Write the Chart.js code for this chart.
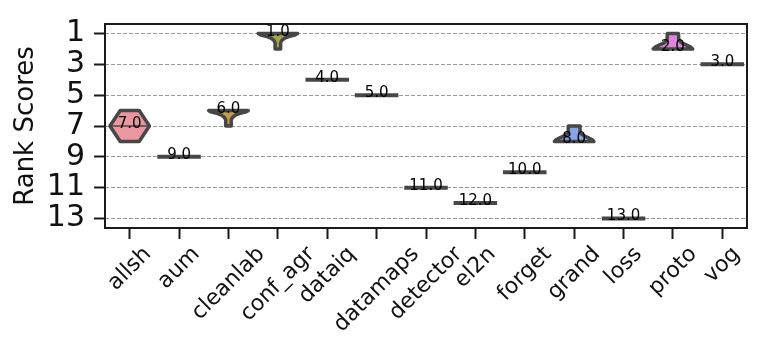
<!DOCTYPE html>
<html>
<head>
<meta charset="utf-8">
<script src="https://cdn.jsdelivr.net/npm/chart.js@4.4.0/dist/chart.umd.min.js"></script>
<style>
  body { margin: 0; background: #fff; }
</style>
</head>
<body>
<canvas id="rankChart" width="761" height="341"></canvas>
<script>
// DATA
const methods = ['allsh', 'aum', 'cleanlab', 'conf_agr', 'dataiq', 'datamaps', 'detector', 'el2n', 'forget', 'grand', 'loss', 'proto', 'vog'];
const medianRanks = [7, 9, 6, 1, 4, 5, 11, 12, 10, 8, 13, 2, 3];
const rankTicks = [1, 3, 5, 7, 9, 11, 13];

// violin outlines as [rank, relative density]; null = single value (flat line)
const allshShape = [[6, 0.48], [7, 1], [8, 0.48]];
const cleanlabShape = [[6, 1], [6.1, 0.85], [6.2, 0.55], [6.3, 0.35], [6.45, 0.2], [6.6, 0.14], [7, 0.14]];
const confAgrShape = [[1, 1], [1.1, 0.85], [1.2, 0.55], [1.3, 0.35], [1.45, 0.2], [1.6, 0.14], [2, 0.14]];
const grandShape = [[7, 0.3], [7.45, 0.3], [7.6, 0.45], [7.75, 0.7], [7.9, 0.92], [8, 1]];
const protoShape = [[1, 0.28], [1.45, 0.3], [1.6, 0.45], [1.75, 0.7], [1.9, 0.92], [2, 1]];
const violinShapes = [allshShape, null, cleanlabShape, confAgrShape, null, null, null, null, null, grandShape, null, protoShape, null];

const violinColors = ['#ea97a2', '#e0a06a', '#c49b4a', '#a5a444', '#86ab46', '#4fb36f', '#52b09c', '#55aeb6', '#5aabd0', '#86a4e6', '#b09ae6', '#e284df', '#e890bd'];
const edgeColor = '#474747';

// VIOLINS + MEDIAN LABELS
const violinPlugin = {
  id: 'violins',
  afterDatasetsDraw(chart) {
    const { ctx, scales: { x, y } } = chart;
    const band = x.getPixelForValue(1) - x.getPixelForValue(0);
    const half = band * 0.4;
    ctx.save();
    methods.forEach((m, i) => {
      const cx = x.getPixelForValue(i);
      const my = y.getPixelForValue(medianRanks[i]);
      const shape = violinShapes[i];
      ctx.strokeStyle = edgeColor;
      ctx.lineJoin = 'round';
      if (!shape) {
        ctx.lineWidth = 4;
        ctx.lineCap = 'square';
        ctx.beginPath();
        ctx.moveTo(cx - half, my);
        ctx.lineTo(cx + half, my);
        ctx.stroke();
      } else {
        ctx.lineWidth = 3.5;
        ctx.beginPath();
        shape.forEach(([r, d], k) => {
          const px = cx + d * half, py = y.getPixelForValue(r);
          if (k) ctx.lineTo(px, py); else ctx.moveTo(px, py);
        });
        for (let k = shape.length - 1; k >= 0; k--) {
          ctx.lineTo(cx - shape[k][1] * half, y.getPixelForValue(shape[k][0]));
        }
        ctx.closePath();
        ctx.fillStyle = violinColors[i];
        ctx.fill();
        ctx.stroke();
        // stick at the median
        const hit = shape.find(p => p[0] === medianRanks[i]);
        if (hit) {
          ctx.lineWidth = 1.5;
          ctx.lineCap = 'butt';
          ctx.beginPath();
          ctx.moveTo(cx - hit[1] * half, my);
          ctx.lineTo(cx + hit[1] * half, my);
          ctx.stroke();
        }
      }
      ctx.fillStyle = '#000';
      ctx.font = '15px "DejaVu Sans"';
      ctx.textAlign = 'center';
      ctx.textBaseline = 'alphabetic';
      ctx.fillText(medianRanks[i].toFixed(1), cx, my + 2);
    });
    ctx.restore();
  },
  afterDraw(chart) {
    const { ctx, chartArea: a, scales: { x } } = chart;
    ctx.save();
    // frame
    ctx.strokeStyle = '#1a1a1a';
    ctx.lineWidth = 2;
    ctx.strokeRect(a.left, a.top, a.right - a.left, a.bottom - a.top);
    // rotated category labels, centred under the tick like matplotlib
    const size = 22;
    ctx.font = size + 'px "DejaVu Sans"';
    ctx.fillStyle = '#111';
    ctx.textAlign = 'right';
    ctx.textBaseline = 'middle';
    const top = a.bottom + 11 + 4;
    methods.forEach((m, i) => {
      const L = ctx.measureText(m).width;
      const ax = x.getPixelForValue(i) + 0.354 * L;
      const ay = top + 0.354 * size;
      ctx.save();
      ctx.translate(ax, ay);
      ctx.rotate(-Math.PI / 4);
      ctx.fillText(m, 0, 0);
      ctx.restore();
    });
    ctx.restore();
  }
};

const ctx = document.getElementById('rankChart').getContext('2d');
const rankChart = new Chart(ctx, {
  type: 'line',
  data: {
    labels: methods,
    datasets: [{
      label: 'Rank',
      data: medianRanks,
      showLine: false,
      pointRadius: 0,
      pointHoverRadius: 0
    }]
  },
  options: {
    responsive: false,
    animation: false,
    events: [],
    layout: { padding: { left: 0, top: 15, right: 14, bottom: 0 } },
    plugins: {
      legend: { display: false },
      tooltip: { enabled: false }
    },
    scales: {
      x: {
        type: 'category',
        offset: true,
        border: { display: false },
        grid: {
          offset: false,
          drawOnChartArea: false,
          drawTicks: true,
          tickLength: 11,
          tickColor: '#1a1a1a',
          tickWidth: 2
        },
        ticks: { display: false },
        afterFit: s => { s.height = 113; }
      },
      y: {
        reverse: true,
        min: 0.38,
        max: 13.62,
        afterBuildTicks: s => { s.ticks = rankTicks.map(v => ({ value: v })); },
        afterFit: s => { s.width = 105; },
        border: { display: false, dash: [4, 2] },
        grid: {
          color: '#999',
          lineWidth: 1,
          tickLength: 11,
          tickColor: '#1a1a1a',
          tickWidth: 2,
          tickBorderDash: []
        },
        ticks: {
          color: '#111',
          padding: 9,
          autoSkip: false,
          font: { family: 'DejaVu Sans', size: 30, lineHeight: 1 },
          callback: v => String(v)
        },
        title: {
          display: true,
          text: 'Rank Scores',
          color: '#111',
          padding: { top: 11, bottom: 0 },
          font: { family: 'DejaVu Sans', size: 26 }
        }
      }
    }
  },
  plugins: [violinPlugin]
});
</script>
</body>
</html>
